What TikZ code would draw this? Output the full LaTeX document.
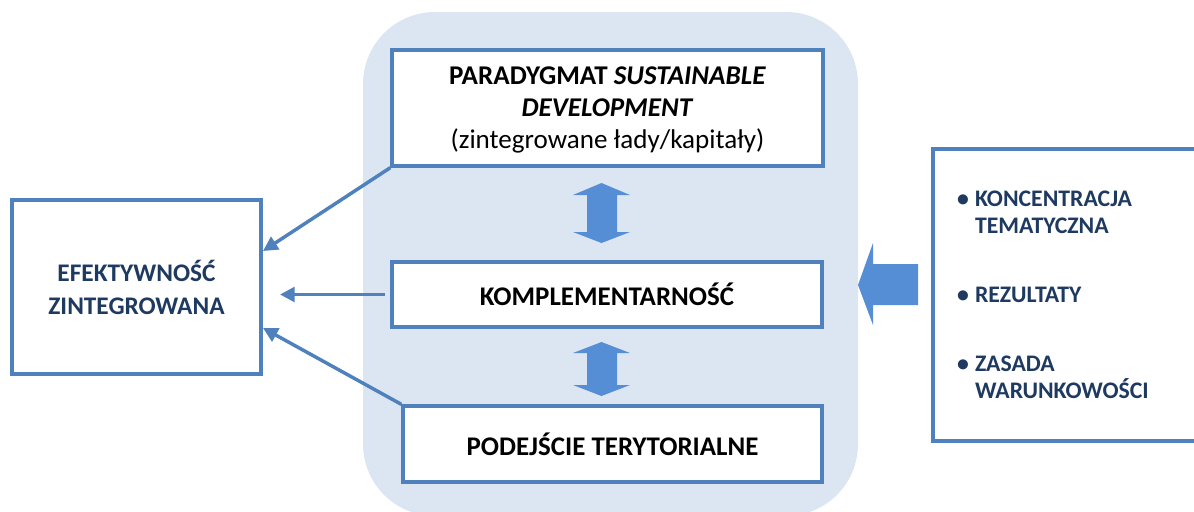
\documentclass[tikz,border=0pt]{standalone}
\usepackage{fontspec}
\setmainfont{Carlito}
\usetikzlibrary{arrows.meta}
\definecolor{bord}{HTML}{4F81BD}
\definecolor{bgblue}{HTML}{DCE6F2}
\definecolor{blk}{HTML}{558ED5}
\definecolor{navy}{HTML}{1F3A60}
\newcommand\bul{\makebox[13.5pt][l]{•}}
\begin{document}
\begin{tikzpicture}[x=0.75pt,y=-0.75pt,
  box/.style={draw=bord,line width=2.5pt,fill=white,inner sep=0pt,align=center},
  conn/.style={draw=bord,line width=2.6pt,-{Triangle[length=11pt,width=11pt]}},
  blockarrow/.style={fill=blk,draw=none}]
\useasboundingbox (0,0) rectangle (1194,511);
\begin{scope}
\clip (0,0) rectangle (1194,511);
\fill[bgblue,rounded corners=54pt] (363,12) rectangle (858,516);
\end{scope}

% boxes
\node[box,minimum width=186.75pt,minimum height=130.5pt,text=navy,
  font=\fontsize{19pt}{24.75pt}\selectfont\bfseries] (eff) at (136.5,287)
  {EFEKTYWNOŚĆ\\ZINTEGROWANA};
\node[box,minimum width=323.25pt,minimum height=87pt,text depth=0pt,
  font=\fontsize{20.3pt}{24pt}\selectfont] (top) at (607.5,108)
  {\textbf{PARADYGMAT \textit{SUSTAINABLE}}\\\textbf{\textit{DEVELOPMENT}}\\(zintegrowane łady/kapitały)};
\node[box,minimum width=322.5pt,minimum height=48.75pt,
  font=\fontsize{20.2pt}{24pt}\selectfont\bfseries] (mid) at (607,294.5)
  {KOMPLEMENTARNOŚĆ};
\node[box,minimum width=314.25pt,minimum height=57pt,
  font=\fontsize{20.2pt}{24pt}\selectfont\bfseries] (bot) at (612.5,444)
  {PODEJŚCIE TERYTORIALNE};
\node[box,align=left,inner xsep=18pt,inner ysep=0pt,text width=164.25pt,
  minimum height=219pt,text=navy,
  font=\fontsize{17.8pt}{20.25pt}\selectfont\bfseries] (rbox) at (1066.5,295)
  {\bul KONCENTRACJA\\\hspace*{13.5pt}TEMATYCZNA\\[31.5pt]
   \bul REZULTATY\\[31.5pt]
   \bul ZASADA\\\hspace*{13.5pt}WARUNKOWOŚCI};

% connectors
\coordinate (e1) at (263,251);
\coordinate (e2) at (280,294.5);
\coordinate (e3) at (263,328);
\draw[conn] (top.south west) -- (e1);
\draw[conn] ([xshift=-3.75pt]mid.west) -- (e2);
\draw[conn] (bot.north west) -- (e3);

% block arrows
\fill[blockarrow] (587,195) -- (573,195) -- (601.5,183) -- (630,195) -- (617,195)
  -- (617,232) -- (630,232) -- (601.5,243) -- (573,232) -- (587,232) -- cycle;
\fill[blockarrow] (587,353) -- (573,353) -- (601.5,342) -- (630,353) -- (617,353)
  -- (617,385) -- (630,385) -- (601.5,396) -- (573,385) -- (587,385) -- cycle;
\fill[blockarrow] (918,264) -- (873,264) -- (873,243) -- (858,285) -- (873,325)
  -- (873,305) -- (918,305) -- cycle;
\end{tikzpicture}
\end{document}
